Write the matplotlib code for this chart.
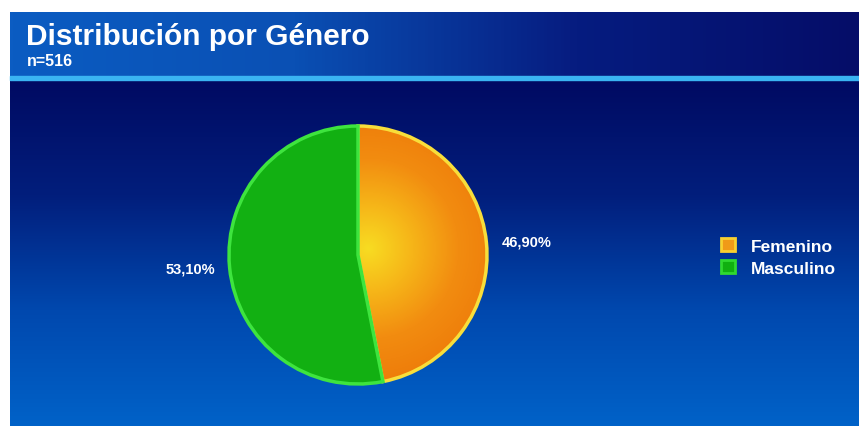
import numpy as np
import matplotlib
matplotlib.use("Agg")
import matplotlib.pyplot as plt
from matplotlib.colors import LinearSegmentedColormap
from matplotlib.patches import Patch

# datos de la encuesta
titulo = "Distribución por Género"
subtitulo = "n=516"
categorias = ["Femenino", "Masculino"]
porcentajes = [46.90, 53.10]

W, H = 859, 427
plt.rcParams['font.family'] = ['Liberation Sans', 'DejaVu Sans']

fig = plt.figure(figsize=(W / 100, H / 100), dpi=100)
fig.patch.set_facecolor("white")

# fondo en coordenadas de pixel
bg = fig.add_axes([0, 0, 1, 1])
bg.set_xlim(0, W)
bg.set_ylim(H, 0)
bg.axis("off")

# cabecera: degradado horizontal azul -> azul oscuro
cab = LinearSegmentedColormap.from_list("cab", ["#0b5cc2", "#0a50b4", "#061c80", "#050d68"])
grad_h = np.linspace(0, 1, 256).reshape(1, -1)
bg.imshow(grad_h, cmap=cab, extent=[10, W, 77, 13], aspect="auto", zorder=1)
bg.fill_between([10, W], 77, 80.5, color="#3ab4f2", zorder=2)

# cuerpo: degradado vertical azul marino -> azul
cuerpo = LinearSegmentedColormap.from_list("cuerpo", ["#000a62", "#021e7c", "#0048ae", "#0062c8"])
grad_v = np.linspace(0, 1, 256).reshape(-1, 1)
bg.imshow(grad_v, cmap=cuerpo, extent=[10, W, H, 80.5], aspect="auto", zorder=1)

bg.text(26, 37, titulo, color="white", fontsize=21.5, fontweight="bold", va="center", ha="left", zorder=3)
bg.text(27, 61, subtitulo, color="white", fontsize=11.5, fontweight="bold", va="center", ha="left", zorder=3)

# grafico de torta
cx, cy, r = 358, 256, 129
ax = fig.add_axes([(cx - r) / W, (H - cy - r) / H, 2 * r / W, 2 * r / H])

wedges, _ = ax.pie(porcentajes, startangle=90, counterclock=False, radius=1,
                   colors=["#f08a10", "#12b012"],
                   wedgeprops=dict(linewidth=2.5))
ax.set_xlim(-1.0, 1.0)
ax.set_ylim(-1.0, 1.0)
ax.axis("off")
wedges[0].set_edgecolor("#f8de3a")
wedges[1].set_edgecolor("#3ee43e")
wedges[1].set_zorder(3)
wedges[0].set_zorder(3)

# degradado radial para Femenino
n = 300
xx, yy = np.meshgrid(np.linspace(-1, 1, n), np.linspace(-1, 1, n))
dist = np.sqrt((xx - 0.08) ** 2 + (yy - 0.05) ** 2)
fem = LinearSegmentedColormap.from_list("fem", ["#f8dc22", "#f6b418", "#f28c10", "#ee7c0a"])
img = ax.imshow(dist, cmap=fem, extent=[-1, 1, -1, 1], origin="lower",
                vmin=0, vmax=1.05, zorder=2)
img.set_clip_path(wedges[0])
wedges[0].set_facecolor("none")

# etiquetas de porcentaje
etiquetas = [f"{p:.2f}%".replace(".", ",") for p in porcentajes]
bg.text(527, 243, etiquetas[0], color="white", fontsize=10.5, fontweight="bold", ha="center", va="center", zorder=5)
bg.text(190, 270, etiquetas[1], color="white", fontsize=10.5, fontweight="bold", ha="center", va="center", zorder=5)

# leyenda
handles = [Patch(facecolor="#f09a18", edgecolor="#f8d030", linewidth=2),
           Patch(facecolor="#10b010", edgecolor="#30d830", linewidth=2)]
leg = bg.legend(handles, categorias, loc="upper left", bbox_to_anchor=(705 / W, 1 - 223 / H),
                frameon=False, handlelength=0.85, handleheight=0.85, handletextpad=0.9,
                labelspacing=0.35, prop=dict(size=12.5, weight="bold"), labelcolor="white")

fig.savefig("out.png", dpi=100, facecolor="white")
